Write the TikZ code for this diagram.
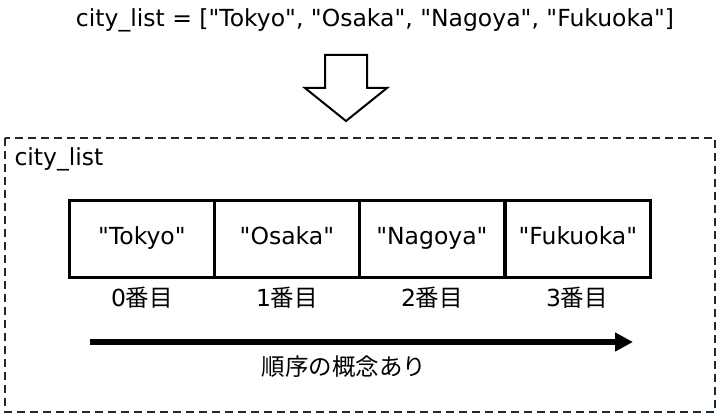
\documentclass[tikz,border=0pt]{standalone}
\usepackage{fontspec}
\setmainfont{DejaVu Sans}[Ligatures=TeXOff]
\newfontfamily\jp{Noto Sans CJK JP}
\usetikzlibrary{arrows.meta}
\definecolor{dashc}{HTML}{1A2A38}
\newcommand{\fsz}{\fontsize{23.5}{28}\selectfont}
\tikzset{
  cell/.style={draw=black, line width=2.8pt, minimum width=145pt, minimum height=77pt, anchor=north west, inner sep=0pt, font=\fsz, text height=17pt, text depth=5pt},
  idx/.style={font=\fsz, anchor=center},
}
\begin{document}
\begin{tikzpicture}[x=1pt,y=-1pt]
\useasboundingbox (0,0) rectangle (717,414);
\node[font=\fsz] (title) at (375,20) {city\_list = ["Tokyo", "Osaka", "Nagoya", "Fukuoka"]};
\draw[line width=2pt, fill=white, line join=miter] (325,55) -- (367,55) -- (367,88) -- (387,88) -- (346,121) -- (305,88) -- (325,88) -- cycle;
\draw[dashc, line width=2pt, dash pattern=on 8pt off 5pt] (5,138) rectangle (715,412);
\node[anchor=west, font=\fsz] (lbl) at (11,159) {city\_list};
\node[cell] (c0) at (68,199) {"Tokyo"};
\node[cell] (c1) at (213,199) {"Osaka"};
\node[cell] (c2) at (358,199) {"Nagoya"};
\node[cell] (c3) at (504,199) {"Fukuoka"};
\node[idx] (i0) at (142,298) {0{\jp 番目}};
\node[idx] (i1) at (287,298) {1{\jp 番目}};
\node[idx] (i2) at (432,298) {2{\jp 番目}};
\node[idx] (i3) at (577,298) {3{\jp 番目}};
\coordinate (as) at (90,342);
\coordinate (ae) at (633,342);
\draw[line width=6pt, -{Triangle[length=18pt,width=18pt]}] (as) -- (ae);
\node[idx, font=\jp\fsz] (ord) at (344,367) {順序の概念あり};
\end{tikzpicture}
\end{document}
